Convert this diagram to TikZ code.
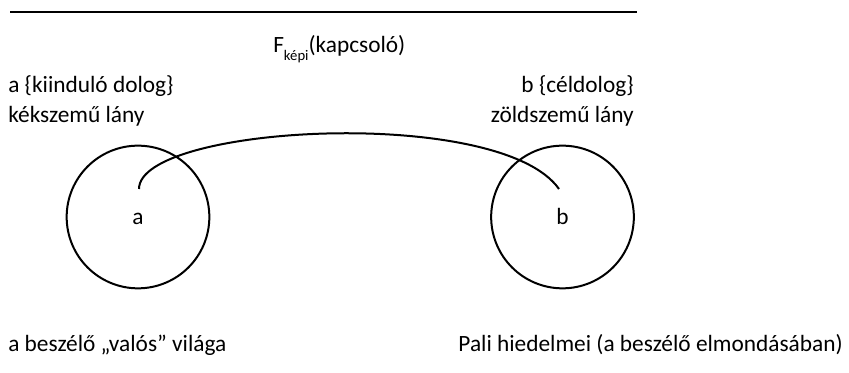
\documentclass[tikz,border=0pt]{standalone}
\usepackage{fontspec}
\setmainfont{Carlito}
\begin{document}
\begin{tikzpicture}[x=0.75pt,y=-0.75pt,
  txt/.style={inner sep=0pt, font=\fontsize{17.5}{21}\selectfont},
  ring/.style={circle, draw, line width=1.5pt, inner sep=0pt, minimum size=107pt, text height=12pt, text depth=0pt, font=\fontsize{17.5}{21}\selectfont},
  link/.style={line width=1.5pt}]
\useasboundingbox (0,0) rectangle (849,373);
\coordinate (l1) at (10,12);
\coordinate (l2) at (637,12);
\draw[line width=2.2pt] (l1) -- (l2);
\node[txt, anchor=base west] (f) at (273,53) {F\raisebox{-6pt}{\fontsize{11}{12}\selectfont képi}(kapcsoló)};
\node[txt, anchor=base west] (a1) at (8,93) {a \{kiinduló dolog\}};
\node[txt, anchor=base west] (a2) at (8,123) {kékszemű lány};
\node[txt, anchor=base east] (b1) at (634,93) {b \{céldolog\}};
\node[txt, anchor=base east] (b2) at (634,123) {zöldszemű lány};
\node[ring] (ca) at (138,217) {a};
\node[ring] (cb) at (562.5,217) {b};
\coordinate (sa) at (139,189);
\coordinate (sb) at (559,189);
\draw[link] (sa) .. controls (139,125) and (500,105) .. (sb);
\node[txt, anchor=base west] (w1) at (8,352) {a beszélő „valós” világa};
\node[txt, anchor=base east] (w2) at (843,352) {Pali hiedelmei (a beszélő elmondásában)};
\end{tikzpicture}
\end{document}
